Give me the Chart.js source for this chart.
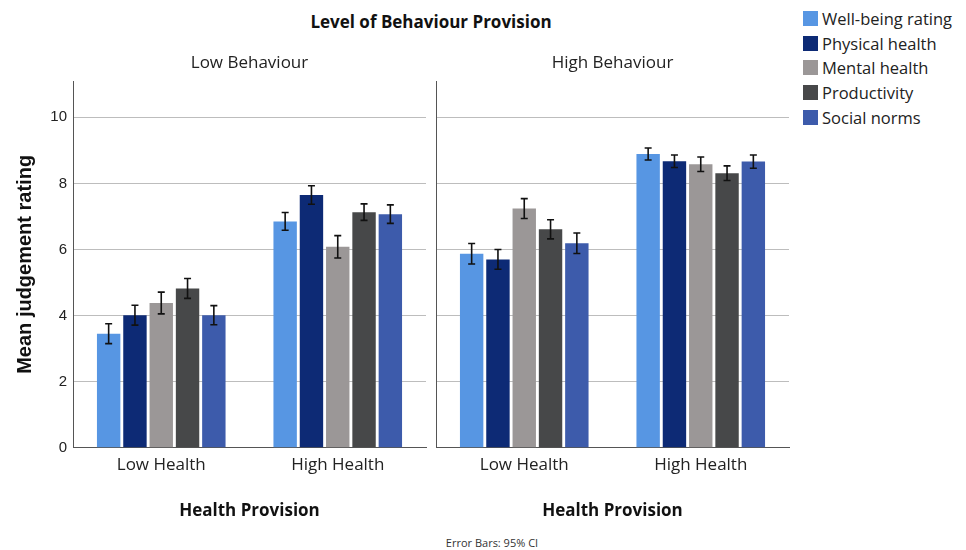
<!DOCTYPE html>
<html>
<head>
<meta charset="utf-8">
<script src="https://cdn.jsdelivr.net/npm/chart.js@4.4.1/dist/chart.umd.min.js"></script>
<style>
    body { margin: 0; background: #fff; font-family: 'Open Sans', sans-serif; color: #222; }
    #wrap { position: relative; width: 966px; height: 550px; overflow: hidden; }
    #leftBox { position: absolute; left: 0; top: 0; }
    #rightBox { position: absolute; left: 430px; top: 0; }
    .main-title { position: absolute; top: 10px; left: 231px; width: 400px; text-align: center; font-weight: bold; font-size: 17px; color: #111; line-height: 24px; }
    #legend { position: absolute; left: 803px; top: 6px; }
    .legend-row { display: flex; align-items: center; height: 24.75px; font-size: 16.5px; color: #222; }
    .legend-row .sw { width: 15px; height: 15px; margin-right: 4px; }
    .note { position: absolute; top: 535px; left: 392px; width: 200px; text-align: center; font-size: 11px; color: #333; }
</style>
</head>
<body>
<div id="wrap">
    <div class="main-title">Level of Behaviour Provision</div>
    <canvas id="leftBox" width="430" height="530"></canvas>
    <canvas id="rightBox" width="370" height="530"></canvas>
    <div id="legend"></div>
    <div class="note">Error Bars: 95% CI</div>
</div>
<script>
// categories
const healthLabels = ['Low Health', 'High Health'];
const behaviourLabels = ['Low Behaviour', 'High Behaviour'];
const seriesNames = ['Well-being rating', 'Physical health', 'Mental health', 'Productivity', 'Social norms'];
const seriesColors = ['#5796e3', '#0d2a75', '#9b9797', '#474849', '#3d5bab'];

// means: [LowBeh-LowHealth, LowBeh-HighHealth, HighBeh-LowHealth, HighBeh-HighHealth]
const wellbeingMean = [3.45, 6.85, 5.87, 8.89];
const physicalMean  = [4.01, 7.65, 5.70, 8.67];
const mentalMean    = [4.38, 6.08, 7.24, 8.58];
const productMean   = [4.82, 7.13, 6.61, 8.31];
const socialMean    = [4.01, 7.07, 6.19, 8.66];

// 95% CI half widths, same order
const wellbeingCI = [0.30, 0.27, 0.31, 0.18];
const physicalCI  = [0.30, 0.28, 0.30, 0.19];
const mentalCI    = [0.33, 0.34, 0.30, 0.22];
const productCI   = [0.30, 0.25, 0.29, 0.22];
const socialCI    = [0.29, 0.28, 0.31, 0.20];

const yTicks = [0, 2, 4, 6, 8, 10];

const allMeans = [wellbeingMean, physicalMean, mentalMean, productMean, socialMean];
const allCI = [wellbeingCI, physicalCI, mentalCI, productCI, socialCI];

Chart.defaults.font.family = "'Open Sans', sans-serif";
Chart.defaults.color = '#222';

// draws the error bars on top of each bar
const errorBars = {
    id: 'errorBars',
    afterDatasetsDraw(chart) {
        const ctx = chart.ctx;
        const y = chart.scales.y;
        chart.data.datasets.forEach((ds, i) => {
            chart.getDatasetMeta(i).data.forEach((bar, j) => {
                const m = ds.data[j], e = ds.ci[j];
                const top = y.getPixelForValue(m + e);
                const bot = y.getPixelForValue(m - e);
                ctx.save();
                ctx.strokeStyle = '#111';
                ctx.lineWidth = 1.6;
                ctx.beginPath();
                ctx.moveTo(bar.x, top); ctx.lineTo(bar.x, bot);
                ctx.moveTo(bar.x - 3.5, top); ctx.lineTo(bar.x + 3.5, top);
                ctx.moveTo(bar.x - 3.5, bot); ctx.lineTo(bar.x + 3.5, bot);
                ctx.stroke();
                ctx.restore();
            });
        });
    }
};

function makePanel(id, panel, showY) {
    const i0 = panel * 2, i1 = panel * 2 + 1;
    const datasets = seriesNames.map((name, s) => ({
        label: name,
        data: [allMeans[s][i0], allMeans[s][i1]],
        ci: [allCI[s][i0], allCI[s][i1]],
        backgroundColor: seriesColors[s],
        borderWidth: 0,
        categoryPercentage: 0.745,
        barPercentage: 0.89
    }));

    new Chart(document.getElementById(id), {
        type: 'bar',
        data: { labels: healthLabels, datasets },
        options: {
            responsive: false,
            animation: false,
            layout: { padding: { left: 0, right: showY ? 4 : 11, top: 0, bottom: 0 } },
            plugins: {
                legend: { display: false },
                tooltip: { enabled: false },
                title: {
                    display: true,
                    text: behaviourLabels[panel],
                    fullSize: false,
                    font: { size: 17, weight: 'normal' },
                    color: '#222',
                    padding: { top: 53, bottom: 7.6 }
                }
            },
            scales: {
                x: {
                    grid: { display: false, drawTicks: false },
                    border: { display: true, color: '#555', width: 1 },
                    ticks: { color: '#222', font: { size: 17 }, padding: 7 },
                    title: {
                        display: true,
                        text: 'Health Provision',
                        font: { size: 17, weight: 'bold' },
                        color: '#111',
                        padding: { top: 0, bottom: 9 }
                    },
                    afterFit: s => { s.height = 82.3; }
                },
                y: {
                    min: 0,
                    max: 11.1,
                    afterBuildTicks: s => { s.ticks = yTicks.map(v => ({ value: v })); },
                    grid: { color: '#bdbdbd', drawTicks: false },
                    border: { display: true, color: '#555', width: 1 },
                    ticks: {
                        display: showY,
                        color: '#222',
                        font: { family: "'Liberation Sans', Arial, sans-serif", size: 15 },
                        padding: 6
                    },
                    title: {
                        display: showY,
                        text: 'Mean judgement rating',
                        font: { family: "'Liberation Sans', Arial, sans-serif", size: 20, weight: 'bold' },
                        color: '#111',
                        padding: { top: 13, bottom: 0 }
                    },
                    afterFit: s => { s.width = showY ? 73 : 6; }
                }
            }
        },
        plugins: [errorBars]
    });
}

makePanel('leftBox', 0, true);
makePanel('rightBox', 1, false);

// legend
const legend = document.getElementById('legend');
seriesNames.forEach((name, s) => {
    const row = document.createElement('div');
    row.className = 'legend-row';
    row.innerHTML = `<span class="sw" style="background:${seriesColors[s]}"></span><span>${name}</span>`;
    legend.appendChild(row);
});
</script>
</body>
</html>
